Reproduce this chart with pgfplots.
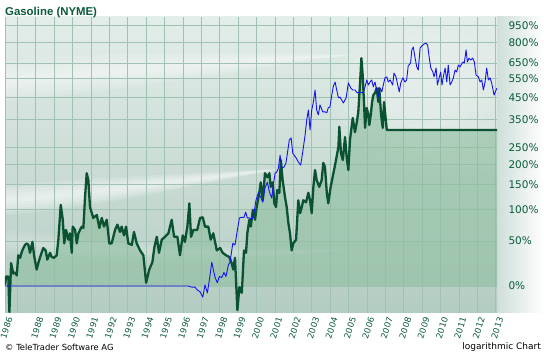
\documentclass[border=0pt]{standalone}
\usepackage{pgfplots}
\usepackage{pgfplotstable}
\pgfplotsset{compat=1.18}
\usepackage{fontspec}
\setmainfont{Liberation Sans}
\newfontfamily\dejavu{DejaVu Sans}
\definecolor{tgreen}{HTML}{0B5B3A}
\definecolor{linegreen}{HTML}{0A5232}
\definecolor{fillgreen}{HTML}{8DBE9F}
\definecolor{gridc}{HTML}{9FC2B3}
\definecolor{bgtop}{HTML}{E3EDE9}
\definecolor{bgmid}{HTML}{BAD1C9}
\definecolor{bgbot}{HTML}{B3CCC2}
\definecolor{bluel}{HTML}{1414F0}

\pgfplotstableread{
year m
1986.33 1.01
1986.39 1.09
1986.51 1.09
1986.57 0.79
1986.66 1.23
1986.78 1.12
1986.88 1.13
1986.97 1.10
1987.05 1.32
1987.15 1.29
1987.24 1.36
1987.33 1.41
1987.42 1.45
1987.51 1.47
1987.60 1.45
1987.69 1.35
1987.82 1.49
1987.91 1.32
1988.05 1.16
1988.14 1.23
1988.27 1.32
1988.41 1.41
1988.54 1.38
1988.63 1.27
1988.78 1.35
1988.87 1.30
1988.99 1.29
1989.14 1.32
1989.23 1.52
1989.36 2.08
1989.47 1.82
1989.55 1.47
1989.65 1.66
1989.77 1.52
1989.86 1.61
1989.96 1.35
1990.01 1.71
1990.14 1.66
1990.23 1.47
1990.32 1.61
1990.41 1.66
1990.50 1.71
1990.59 1.69
1990.68 2.23
1990.77 2.77
1990.86 2.60
1990.95 2.04
1991.13 1.85
1991.32 1.90
1991.46 1.69
1991.59 1.85
1991.71 1.71
1991.86 1.82
1992.00 1.47
1992.13 1.47
1992.31 1.66
1992.44 1.74
1992.58 1.63
1992.67 1.71
1992.80 1.58
1992.91 1.71
1993.03 1.47
1993.22 1.45
1993.34 1.63
1993.49 1.47
1993.67 1.38
1993.85 1.32
1994.00 1.03
1994.17 1.16
1994.34 1.24
1994.45 1.42
1994.58 1.56
1994.70 1.35
1994.85 1.52
1995.03 1.56
1995.21 1.61
1995.39 1.82
1995.52 1.56
1995.70 1.56
1995.84 1.32
1995.99 1.58
1996.11 1.49
1996.24 1.71
1996.35 2.11
1996.44 1.56
1996.57 1.66
1996.78 1.66
1996.93 1.85
1997.08 1.86
1997.20 1.71
1997.38 1.71
1997.51 1.52
1997.65 1.61
1997.84 1.38
1998.02 1.41
1998.16 1.35
1998.34 1.32
1998.52 1.30
1998.65 1.23
1998.74 1.16
1998.83 1.29
1998.96 0.805
1999.07 0.99
1999.20 0.94
1999.32 1.38
1999.43 1.35
1999.50 1.61
1999.61 1.82
1999.69 1.71
1999.80 1.99
1999.92 1.82
2000.01 2.04
2000.15 2.32
2000.23 2.55
2000.34 2.17
2000.46 2.77
2000.59 2.67
2000.70 2.77
2000.77 2.45
2000.88 2.55
2000.97 2.11
2001.06 2.04
2001.13 2.38
2001.24 2.32
2001.32 3.12
2001.42 2.60
2001.55 2.23
2001.64 2.04
2001.73 1.77
2001.82 1.61
2001.91 1.38
2002.00 1.47
2002.15 1.52
2002.27 2.17
2002.37 1.93
2002.46 2.04
2002.54 2.17
2002.69 2.13
2002.82 2.32
2002.91 2.17
2003.00 1.93
2003.09 2.45
2003.18 2.85
2003.27 2.60
2003.41 2.45
2003.54 2.60
2003.63 3.04
2003.72 2.93
2003.82 2.32
2003.90 2.11
2004.03 2.45
2004.18 2.77
2004.32 3.12
2004.45 3.51
2004.50 4.21
2004.59 3.32
2004.69 3.12
2004.81 3.84
2004.90 3.20
2004.99 2.85
2005.08 3.74
2005.23 4.56
2005.35 4.01
2005.45 4.39
2005.53 4.80
2005.63 6.31
2005.70 7.83
2005.77 6.72
2005.84 5.27
2005.90 4.17
2005.99 4.99
2006.08 4.69
2006.13 4.28
2006.21 4.69
2006.28 5.27
2006.35 5.61
2006.44 5.72
2006.53 5.98
2006.62 5.27
2006.67 5.98
2006.77 4.69
2006.86 4.17
2006.93 5.27
2007.00 4.69
2007.08 4.09
2013.07 4.09
}\greendata

\pgfplotstableread{
year m
1986.33 1.00
1996.29 1.00
1996.48 0.99
1996.66 0.99
1996.78 0.965
1996.93 0.95
1997.08 0.905
1997.20 1.01
1997.33 0.94
1997.44 1.06
1997.57 1.24
1997.65 1.16
1997.75 1.08
1997.87 1.03
1997.98 1.09
1998.11 1.08
1998.23 1.13
1998.34 1.09
1998.47 1.21
1998.56 1.24
1998.71 1.47
1998.83 1.45
1998.96 1.66
1999.07 1.85
1999.20 1.86
1999.32 1.86
1999.41 1.95
1999.50 1.85
1999.61 1.85
1999.74 1.82
1999.86 1.93
1999.97 2.17
2000.10 2.32
2000.23 2.23
2000.34 2.13
2000.46 2.43
2000.59 2.55
2000.70 2.34
2000.83 2.21
2000.91 2.49
2001.01 2.77
2001.10 2.80
2001.19 2.90
2001.28 3.26
2001.37 2.90
2001.50 2.93
2001.60 3.04
2001.68 3.32
2001.78 3.74
2001.88 3.81
2001.97 3.32
2002.15 3.18
2002.27 3.07
2002.40 2.98
2002.51 3.35
2002.64 3.91
2002.73 4.48
2002.82 4.90
2002.91 4.09
2003.00 4.90
2003.09 5.27
2003.18 5.87
2003.27 4.90
2003.36 4.69
2003.45 5.13
2003.60 4.82
2003.72 4.82
2003.82 4.78
2003.90 5.00
2003.99 5.04
2004.09 5.61
2004.18 6.09
2004.27 6.31
2004.36 5.87
2004.45 5.47
2004.54 5.51
2004.72 5.22
2004.87 5.47
2004.99 6.26
2005.12 5.98
2005.23 5.87
2005.35 5.87
2005.48 5.72
2005.63 5.77
2005.77 5.72
2005.90 6.04
2005.99 6.43
2006.08 6.14
2006.17 6.31
2006.26 6.43
2006.35 6.04
2006.44 6.31
2006.53 5.87
2006.62 5.51
2006.71 5.98
2006.81 5.77
2006.89 6.14
2006.98 6.55
2007.08 6.61
2007.16 6.31
2007.26 6.43
2007.40 6.14
2007.47 6.84
2007.58 6.61
2007.65 6.26
2007.76 5.77
2007.84 6.26
2007.95 6.55
2008.07 6.31
2008.16 6.43
2008.25 7.36
2008.31 7.36
2008.38 7.56
2008.44 8.43
2008.52 8.66
2008.62 7.83
2008.71 7.23
2008.79 7.03
2008.89 8.58
2008.98 8.73
2009.10 8.89
2009.21 8.97
2009.30 8.81
2009.39 7.83
2009.47 7.16
2009.58 6.91
2009.65 6.61
2009.76 7.16
2009.83 6.14
2009.94 6.61
2010.01 6.91
2010.08 6.14
2010.15 6.61
2010.25 7.16
2010.34 6.31
2010.42 7.36
2010.52 6.14
2010.61 6.31
2010.70 6.55
2010.79 7.03
2010.88 6.91
2010.97 7.36
2011.06 7.23
2011.21 7.56
2011.29 7.49
2011.39 8.43
2011.46 7.56
2011.55 7.83
2011.64 7.70
2011.75 7.83
2011.84 7.56
2011.93 6.72
2012.06 6.61
2012.15 6.31
2012.24 6.43
2012.33 5.87
2012.42 6.31
2012.51 7.16
2012.60 6.43
2012.69 6.55
2012.78 6.26
2012.91 5.61
2013.02 5.87
2013.07 5.98
}\bluedata

\begin{document}
\begin{tikzpicture}[x=1pt,y=1pt]
\useasboundingbox (0,0) rectangle (544,353);
\fill[white] (0,0) rectangle (544,353);
\shade[left color=bgmid!70!white, right color=white] (497,40) rectangle (544,336);
% plot background with soft light swooshes
\shade[top color=bgtop, middle color=bgmid, bottom color=bgbot] (5,40) rectangle (497,336);
\begin{scope}
\clip (5,40) rectangle (497,336);
\foreach \s in {4,8,12,16,20} {
  \fill[white, opacity=0.13] (5,272+\s) .. controls (120,282+\s) and (240,292+0.5*\s) .. (350,298) .. controls (240,292-0.5*\s) and (120,282-\s) .. (5,272-\s) -- cycle;
}
\foreach \s in {3,6,9,12,15} {
  \fill[white, opacity=0.16] (5,153+\s) .. controls (90,160+\s) and (180,172+0.5*\s) .. (280,184) .. controls (180,172-0.5*\s) and (90,160-\s) .. (5,153-\s) -- cycle;
}
\foreach \s in {3,6,9,12} {
  \fill[white, opacity=0.07] (5,112+\s) .. controls (120,100+\s) and (250,96+0.5*\s) .. (350,104) .. controls (250,96-0.5*\s) and (120,100-\s) .. (5,112-\s) -- cycle;
}
\foreach \r in {0.45,0.6,0.75,0.9,1.0} {
  \fill[white, opacity=0.09] (425,262) ellipse ({95*\r} and {62*\r});
}
\foreach \r in {0.5,0.75,1.0} {
  \fill[white, opacity=0.08] (450,205) ellipse ({85*\r} and {26*\r});
}
\end{scope}
\begin{axis}[
  at={(5pt,40pt)}, anchor=south west,
  scale only axis, width=492pt, height=296pt,
  ymode=log,
  xmin=1986.33, xmax=2013.07,
  ymin=0.784, ymax=11.35,
  axis line style={draw=none},
  major tick length=0pt,
  grid=major,
  grid style={gridc, line width=0.5pt},
  ytick={1,1.5,2,2.5,3,3.5,4.5,5.5,6.5,7.5,9,10.5},
  yticklabels={0\%,50\%,100\%,150\%,200\%,250\%,350\%,450\%,550\%,650\%,800\%,950\%},
  yticklabel pos=right,
  yticklabel style={anchor=west, xshift=8pt, font=\dejavu\fontsize{10.5}{12}\selectfont, text=tgreen},
  xtick={1986.33,1987,1988,1989,1990,1991,1992,1993,1994,1995,1996,1997,1998,1999,2000,2001,2002,2003,2004,2005,2006,2007,2008,2009,2010,2011,2012,2013},
  xticklabels={1986,,1988,1989,1990,1991,1992,1993,1994,1995,1996,1997,1998,1999,2000,2001,2002,2003,2004,2005,2006,2007,2008,2009,2010,2011,2012,2013},
  xticklabel style={xshift=5pt, yshift=-4pt, rotate=72, anchor=east, inner sep=0.5pt, font=\dejavu\fontsize{8.5}{10}\selectfont, text=tgreen},
  clip=true,
]
\addplot[draw=none, fill=fillgreen, fill opacity=0.6] table[x=year, y=m] {\greendata} \closedcycle;
\addplot[linegreen, line width=2.3pt, line join=round] table[x=year, y=m] {\greendata};
\addplot[bluel, line width=0.9pt, line join=round] table[x=year, y=m] {\bluedata};
\end{axis}
\node[anchor=base west, text=tgreen, font=\bfseries\fontsize{11.4}{13}\selectfont, inner sep=0pt] at (5,337) {Gasoline (NYME)};
\node[anchor=base west, font=\dejavu\fontsize{8.4}{10}\selectfont, inner sep=0pt] at (5,2.5) {\textcopyright\ TeleTrader Software AG};
\node[anchor=base east, font=\dejavu\fontsize{9}{10}\selectfont, inner sep=0pt] at (541,3) {logarithmic Chart};
\end{tikzpicture}
\end{document}
